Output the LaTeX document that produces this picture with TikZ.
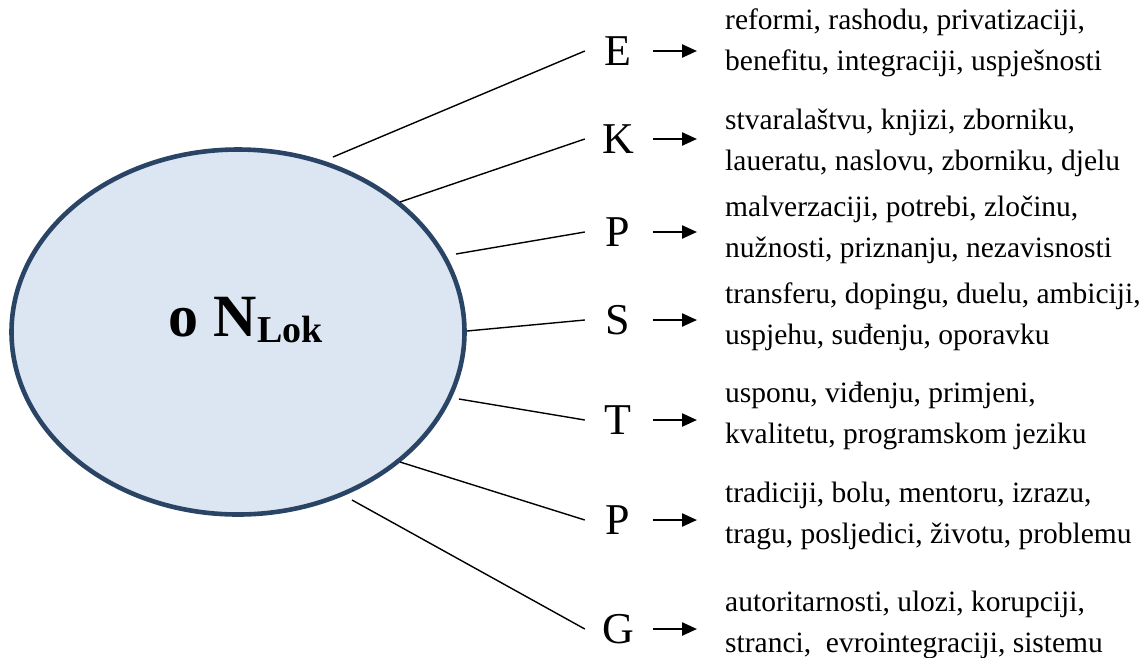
\documentclass[tikz,border=0pt]{standalone}
\usepackage{fontspec}
\setmainfont{Liberation Serif}
\usetikzlibrary{shapes.geometric,arrows.meta}
\definecolor{ovalfill}{RGB}{220,230,242}
\definecolor{ovalline}{RGB}{42,68,102}
\tikzset{
  letter/.style={font=\fontsize{44}{44}\selectfont, minimum width=66pt, inner sep=0pt, anchor=center},
  words/.style={font=\fontsize{29.5}{41}\selectfont, align=left, inner sep=0pt, anchor=west},
  spoke/.style={line width=1.4pt, black},
  arr/.style={line width=2.4pt, -{Triangle[length=15pt,width=13pt]}, shorten <=2pt, shorten >=28pt}
}
\begin{document}
\begin{tikzpicture}[x=1pt,y=-1pt]
\useasboundingbox (0,0) rectangle (1145,657);

% central oval
\node[ellipse, draw=ovalline, line width=4.6pt, fill=ovalfill,
      minimum width=453pt, minimum height=365pt, inner sep=0pt] (oval) at (238,332) {};
\node[anchor=base west, inner sep=0pt] (core) at (168,336)
  {\fontsize{60}{60}\selectfont\bfseries o N\kern1pt\raisebox{-6pt}{\fontsize{38}{38}\selectfont Lok}};

% start points of the spokes on the oval
\coordinate (sE)  at (333,157);
\coordinate (sK)  at (400,202);
\coordinate (sP1) at (456,254);
\coordinate (sS)  at (467,331);
\coordinate (sT)  at (459,399);
\coordinate (sP2) at (400,462);
\coordinate (sG)  at (352,500);

% category letters
\node[letter] (E)  at (618,51)  {E};
\node[letter] (K)  at (618,139) {K};
\node[letter] (P1) at (618,232) {P};
\node[letter] (S)  at (618,320) {S};
\node[letter] (T)  at (618,420) {T};
\node[letter] (P2) at (618,520) {P};
\node[letter] (G)  at (618,629) {G};

% word lists
\node[words] (wE)  at (725,43)  {reformi, rashodu, privatizaciji,\\benefitu, integraciji, uspješnosti};
\node[words] (wK)  at (725,143) {stvaralaštvu, knjizi, zborniku,\\laueratu, naslovu, zborniku, djelu};
\node[words] (wP1) at (725,230) {malverzaciji, potrebi, zločinu,\\nužnosti, priznanju, nezavisnosti};
\node[words] (wS)  at (725,317) {transferu, dopingu, duelu, ambiciji,\\uspjehu, suđenju, oporavku};
\node[words] (wT)  at (725,416) {usponu, viđenju, primjeni,\\kvalitetu, programskom jeziku};
\node[words] (wP2) at (725,516) {tradiciji, bolu, mentoru, izrazu,\\tragu, posljedici, životu, problemu};
\node[words] (wG)  at (725,625) {autoritarnosti, ulozi, korupciji,\\stranci,\ \ evrointegraciji, sistemu};

% spokes and arrows
\foreach \n in {E,K,P1,S,T,P2,G}{
  \draw[spoke] (s\n) -- (\n.west);
  \draw[arr] (\n.east) -- (\n.east -| w\n.west);
}
\end{tikzpicture}
\end{document}
